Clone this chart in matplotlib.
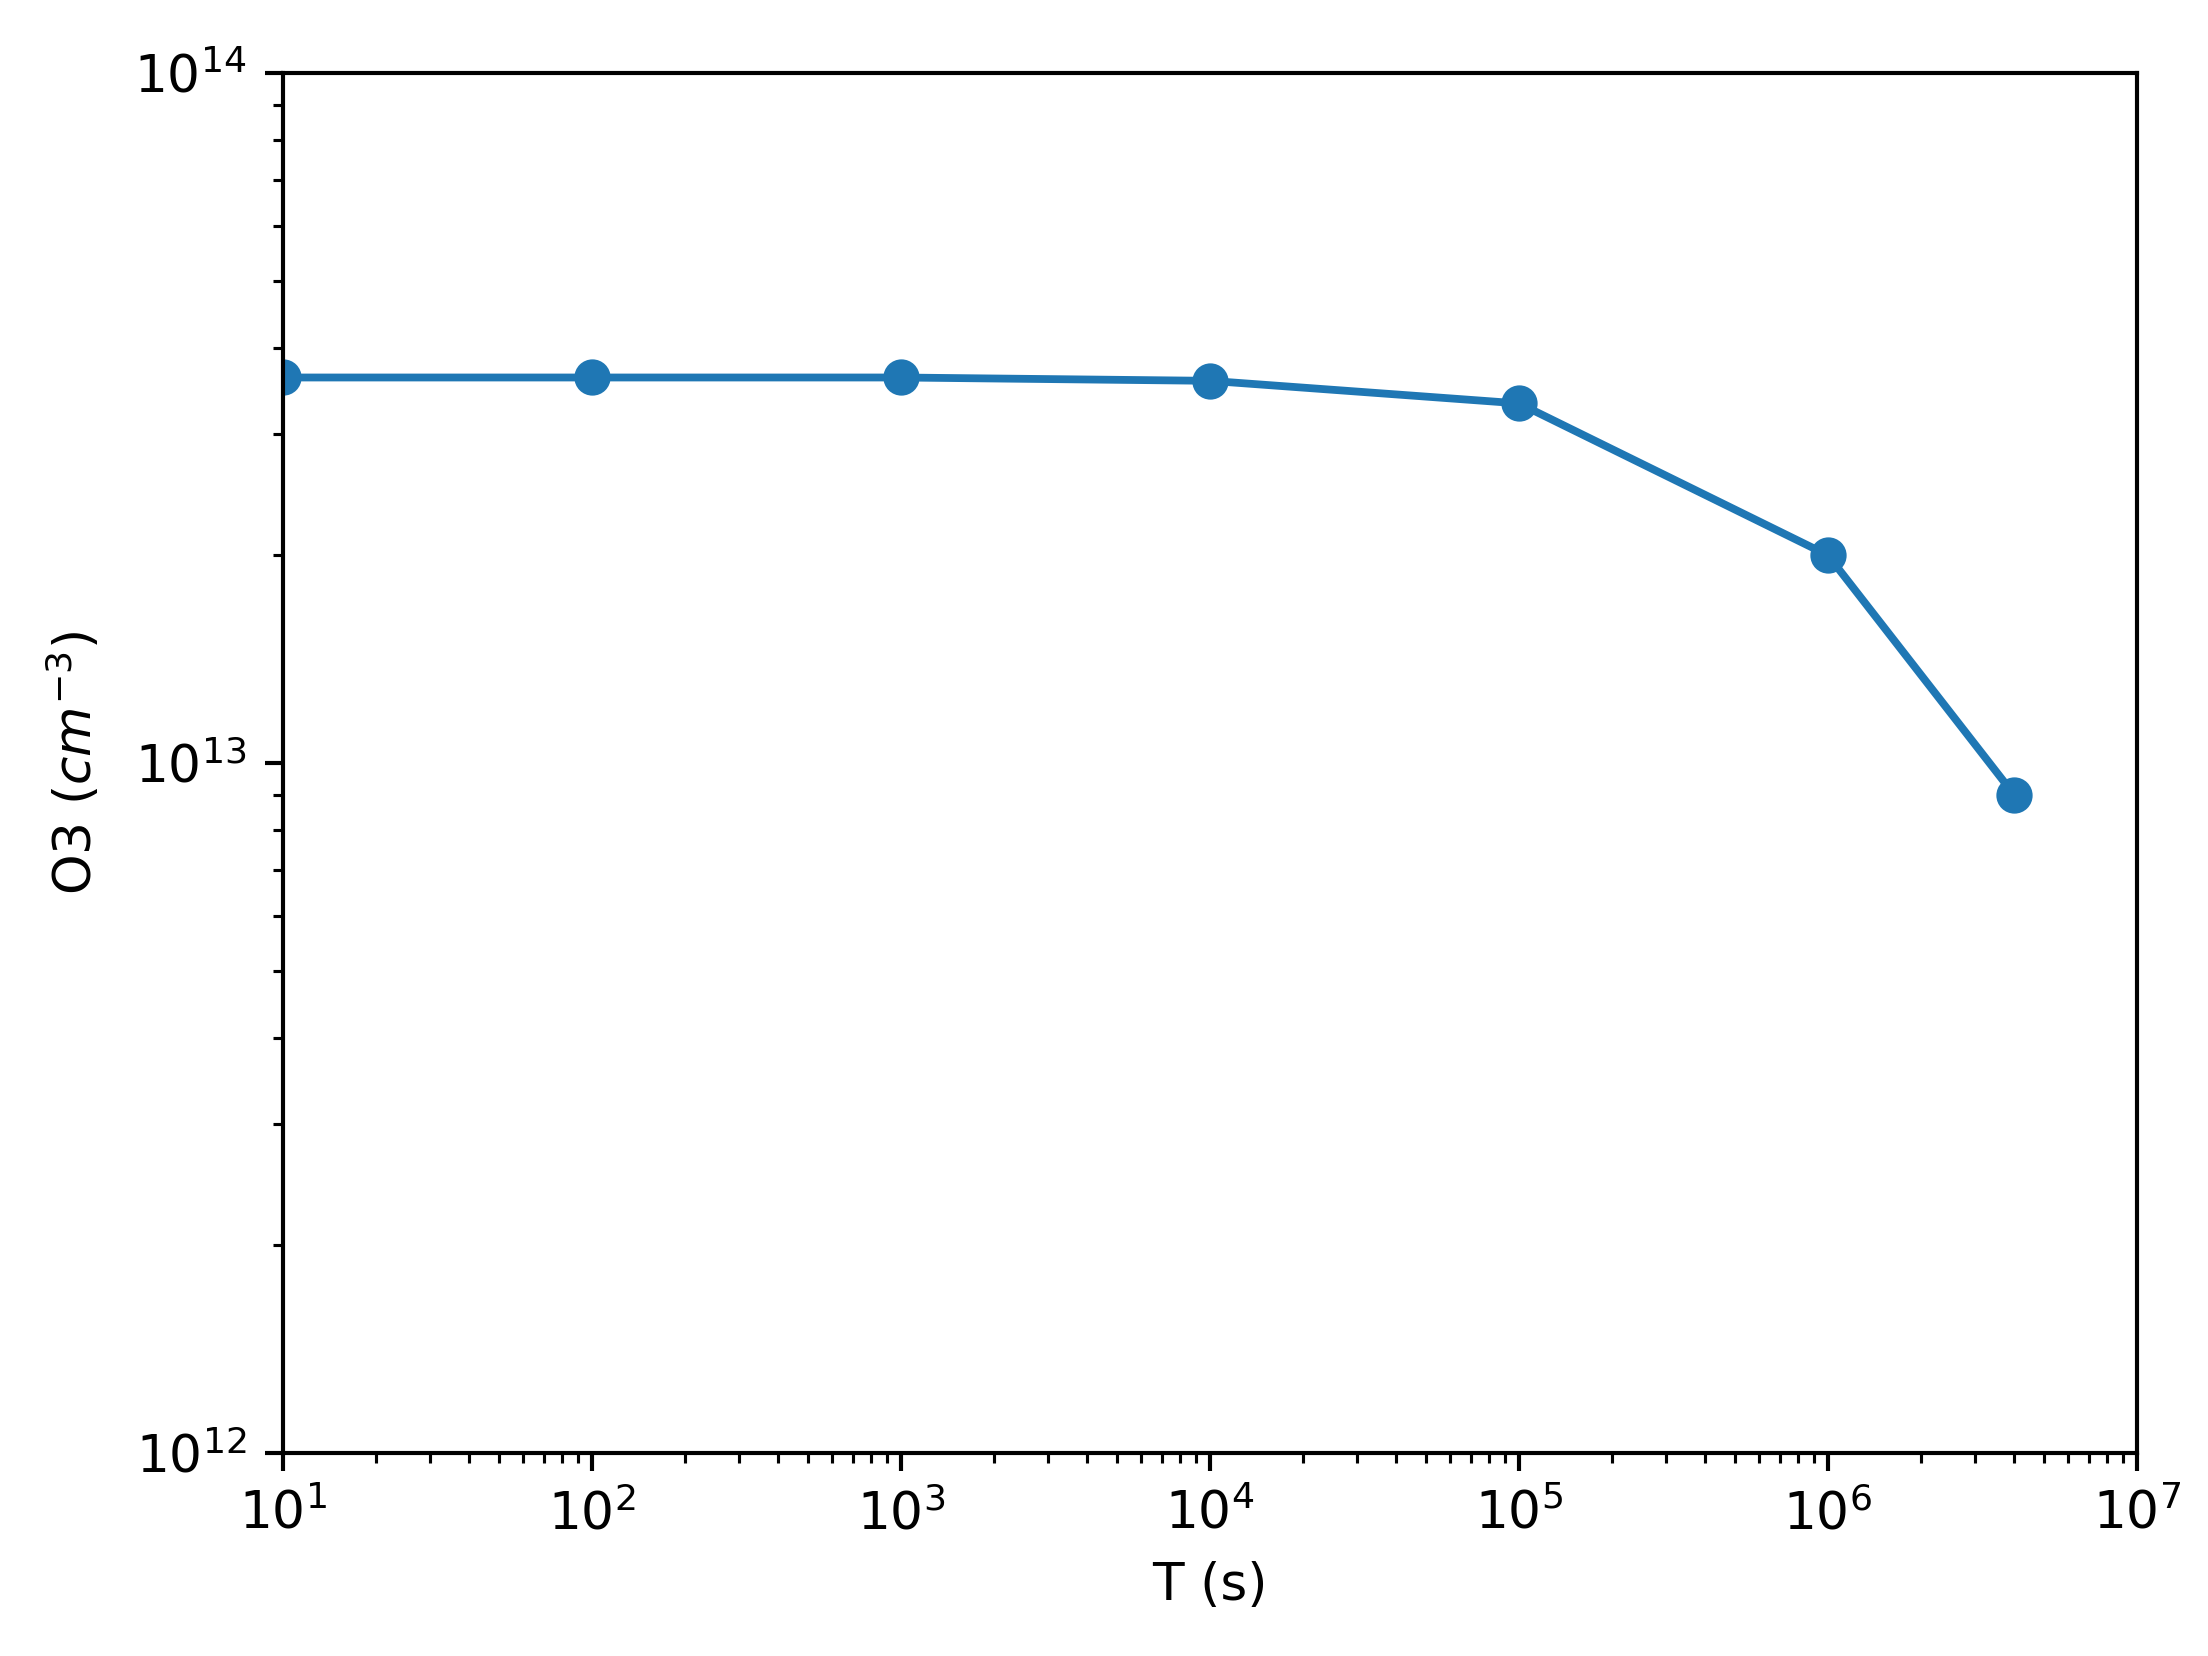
import matplotlib
matplotlib.use("Agg")
import matplotlib.pyplot as plt

T = [1e1, 1e2, 1e3, 1e4, 1e5, 1e6, 4e6]
O3 = [3.62e13, 3.62e13, 3.62e13, 3.58e13, 3.32e13, 2.0e13, 9.0e12]

dpi = 373
fig = plt.figure(figsize=(2208 / dpi, 1656 / dpi), dpi=dpi)
ax = fig.add_axes([283 / 2208, 1 - 1453 / 1656, (2137 - 283) / 2208, (1453 - 73) / 1656])
ax.plot(T, O3, 'o-', color='#1f77b4')
ax.set_xscale('log')
ax.set_yscale('log')
ax.set_xlim(1e1, 1e7)
ax.set_ylim(1e12, 1e14)
ax.set_xlabel('T (s)')
ax.set_ylabel('O3 ($cm^{-3}$)', labelpad=6)
fig.savefig('out.png', dpi=dpi)
